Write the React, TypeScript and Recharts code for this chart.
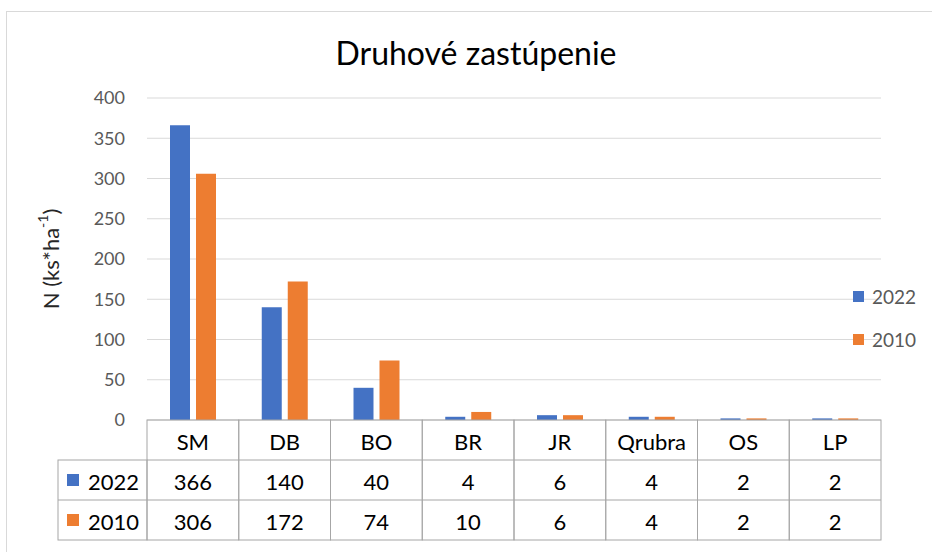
import React from 'react';
import { BarChart, Bar, XAxis, YAxis, CartesianGrid, Legend } from 'recharts';

const categories = ['SM', 'DB', 'BO', 'BR', 'JR', 'Qrubra', 'OS', 'LP'];
const values2022 = [366, 140, 40, 4, 6, 4, 2, 2];
const values2010 = [306, 172, 74, 10, 6, 4, 2, 2];
const seriesNames = ['2022', '2010'];
const seriesColors = ['#4472C4', '#ED7D31'];
const yTicks = [0, 50, 100, 150, 200, 250, 300, 350, 400];
const title = 'Druhové zastúpenie';

const data = categories.map((c, i) => ({ name: c, v2022: values2022[i], v2010: values2010[i] }));
const seriesValues = [values2022, values2010];

const W = 932;
const H = 552;
const PLOT_LEFT = 147;
const PLOT_RIGHT = 881;
const PLOT_TOP = 98;
const PLOT_BOTTOM = 420;
const Y_AXIS_W = 70;
const X_AXIS_H = 125;
const LABEL_COL_W = 89;
const ROW_H = 40;
const FONT = 'Lato, "Noto Sans", sans-serif';
const GRID = '#D9D9D9';
const TABLE_LINE = '#A6A6A6';

const TableTick = (props: any) => {
  const { x, y, index, payload } = props;
  const colW = (PLOT_RIGHT - PLOT_LEFT) / categories.length;
  const left = x - colW / 2;
  const items: React.ReactNode[] = [];
  items.push(
    <rect key="col" x={left} y={y} width={colW} height={ROW_H * 3} fill="none" stroke={TABLE_LINE} strokeWidth={1} />
  );
  items.push(<line key="h1" x1={left} x2={left + colW} y1={y + ROW_H} y2={y + ROW_H} stroke={TABLE_LINE} />);
  items.push(<line key="h2" x1={left} x2={left + colW} y1={y + ROW_H * 2} y2={y + ROW_H * 2} stroke={TABLE_LINE} />);
  items.push(
    <text key="hd" x={x} y={y + ROW_H / 2 + 1} textAnchor="middle" dominantBaseline="central" fontSize={22} fill="#000" fontFamily={FONT}>
      {payload.value}
    </text>
  );
  seriesValues.forEach((vals, r) => {
    items.push(
      <text key={'v' + r} x={x} y={y + ROW_H * (r + 1) + ROW_H / 2 + 1} textAnchor="middle" dominantBaseline="central" fontSize={22} fill="#000" fontFamily={FONT}>
        {vals[index]}
      </text>
    );
  });
  if (index === 0) {
    const lx = left - LABEL_COL_W;
    items.push(
      <rect key="lab" x={lx} y={y + ROW_H} width={LABEL_COL_W} height={ROW_H * 2} fill="none" stroke={TABLE_LINE} />
    );
    items.push(<line key="labh" x1={lx} x2={left} y1={y + ROW_H * 2} y2={y + ROW_H * 2} stroke={TABLE_LINE} />);
    seriesNames.forEach((s, r) => {
      const cy = y + ROW_H * (r + 1) + ROW_H / 2;
      items.push(<rect key={'sq' + r} x={lx + 9} y={cy - 6} width={12} height={12} fill={seriesColors[r]} />);
      items.push(
        <text key={'sn' + r} x={lx + 30} y={cy + 1} dominantBaseline="central" fontSize={22} fill="#000" fontFamily={FONT}>
          {s}
        </text>
      );
    });
  }
  return <g>{items}</g>;
};

const YLabel = (props: any) => {
  const vb = props.viewBox || { y: PLOT_TOP, height: PLOT_BOTTOM - PLOT_TOP };
  const cy = vb.y + vb.height / 2;
  const cx = 50;
  return (
    <text x={cx} y={cy} transform={`rotate(-90, ${cx}, ${cy})`} textAnchor="middle" dominantBaseline="central" fontSize={22} fill="#262626" fontFamily={FONT}>
      N (ks*ha
      <tspan dy={-8} fontSize={14}>-1</tspan>
      <tspan dy={8}>)</tspan>
    </text>
  );
};

const LegendContent = () => (
  <div style={{ fontFamily: FONT, fontSize: 19, color: '#595959' }}>
    {seriesNames.map((s, i) => (
      <div key={s} style={{ display: 'flex', alignItems: 'center', height: 43 }}>
        <span style={{ display: 'inline-block', width: 11, height: 11, background: seriesColors[i], marginRight: 8 }} />
        <span>{s}</span>
      </div>
    ))}
  </div>
);

export default function App() {
  return (
    <div style={{ position: 'absolute', left: 0, top: 0, width: W, height: H, overflow: 'hidden', background: '#fff' }}>
      <div style={{ position: 'absolute', left: 6, top: 11, width: W + 20, height: H + 20, border: '1px solid #D9D9D9' }} />
      <div
        style={{
          position: 'absolute',
          left: 0,
          width: 952,
          top: 33,
          textAlign: 'center',
          fontFamily: FONT,
          fontSize: 32,
          color: '#000',
          lineHeight: '40px',
        }}
      >
        {title}
      </div>
      <div style={{ position: 'absolute', left: 0, top: 0 }}>
        <BarChart
          width={W}
          height={H}
          data={data}
          margin={{ top: PLOT_TOP, right: W - PLOT_RIGHT, left: PLOT_LEFT - Y_AXIS_W, bottom: H - PLOT_BOTTOM - X_AXIS_H }}
          barSize={20}
          barGap={6}
        >
          <CartesianGrid vertical={false} stroke={GRID} />
          <XAxis
            dataKey="name"
            interval={0}
            axisLine={false}
            tickLine={false}
            tickSize={0}
            tickMargin={0}
            height={X_AXIS_H}
            tick={<TableTick />}
          />
          <YAxis
            width={Y_AXIS_W}
            domain={[0, 400]}
            ticks={yTicks}
            axisLine={false}
            tickLine={false}
            tickMargin={16}
            tick={{ fill: '#595959', fontSize: 18, fontFamily: FONT }}
            label={{ content: <YLabel /> }}
          />
          <Legend
            layout="horizontal"
            align="center"
            verticalAlign="middle"
            content={<LegendContent />}
            wrapperStyle={{ left: 853, top: 275, width: 80 }}
          />
          <Bar dataKey="v2022" name={seriesNames[0]} fill={seriesColors[0]} isAnimationActive={false} />
          <Bar dataKey="v2010" name={seriesNames[1]} fill={seriesColors[1]} isAnimationActive={false} />
        </BarChart>
      </div>
    </div>
  );
}
